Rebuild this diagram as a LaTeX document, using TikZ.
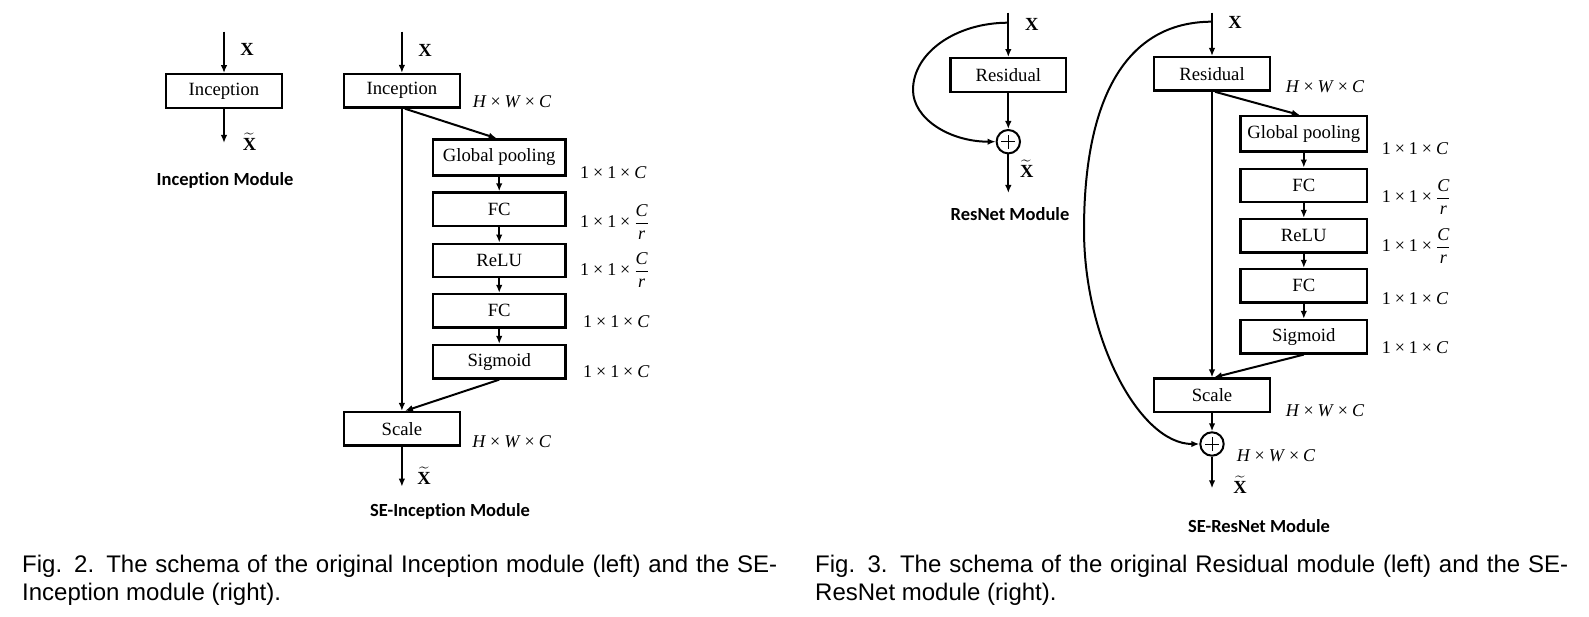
\documentclass[tikz,border=0pt]{standalone}
\usepackage{amsmath}
\usepackage{fontspec}
\setmainfont{Liberation Serif}
\newfontfamily\capfont{Liberation Sans}
\newfontfamily\modfont{Carlito}[Ligatures=NoCommon]
\usetikzlibrary{arrows.meta}
\newcommand{\tm}{\hspace{0.22em}×\hspace{0.22em}}
\newcommand{\dimC}{1\tm 1\tm\textit{C}}
\newcommand{\dimCr}{1\tm 1\tm$\genfrac{}{}{1.3pt}{0}{\mbox{\textit{C}}}{\mbox{\textit{r}}}$}
\newcommand{\dimHWC}{\textit{H}\tm\textit{W}\tm\textit{C}}
\newcommand{\Xt}{$\widetilde{\mbox{\textbf{X}}}$}
\tikzset{
  blk/.style={draw, line width=2.3pt, inner sep=0pt, font=\fontsize{18.7}{20}\selectfont, minimum height=33.5pt},
  inc/.style={blk, minimum width=115.5pt},
  seA/.style={blk, minimum width=132.7pt},
  seB/.style={blk, minimum width=126.7pt},
  sum/.style={circle, draw, line width=2pt, minimum size=23.4pt, inner sep=0pt,
    path picture={\draw[line width=1pt] ([xshift=-7pt]path picture bounding box.center) -- ([xshift=7pt]path picture bounding box.center)
      ([yshift=-7pt]path picture bounding box.center) -- ([yshift=7pt]path picture bounding box.center);}},
  conn/.style={line width=2pt, -{Latex[length=8pt,width=6.5pt]}},
  xlab/.style={font=\fontsize{18.5}{20}\selectfont\bfseries, inner sep=0pt},
  dim/.style={font=\fontsize{18}{20}\selectfont, anchor=base west, inner sep=0pt},
  dimc/.style={font=\fontsize{18}{20}\selectfont, anchor=base, inner sep=0pt},
  modlab/.style={font=\modfont\bfseries\fontsize{18.5}{20}\selectfont, inner sep=0pt},
  capt/.style={font=\capfont\fontsize{24}{28}\selectfont, anchor=base west, inner sep=0pt}
}
\begin{document}
\begin{tikzpicture}[x=1pt,y=-1pt]
\useasboundingbox (0,0) rectangle (1589,617);
% ---------- Inception module (left)
\coordinate (a0) at (224,31.7);
\node[inc] (a1) at (224,91) {Inception};
\coordinate (a2) at (224,143);
\draw[conn] (a0) -- (a1);
\draw[conn] (a1) -- (a2);
\node[xlab] (ax) at (247,49) {X};
\node[xlab] (axt) at (249.5,141.5) {\Xt};
\node[modlab] (am) at (225,180) {Inception Module};
% ---------- SE-Inception
\coordinate (b0) at (401.9,31.7);
\node[inc] (b1) at (401.9,90.8) {Inception};
\node[seA, minimum height=36pt] (b2) at (499.2,157.5) {Global pooling};
\node[seA] (b3) at (499.2,209.2) {FC};
\node[seA] (b4) at (499.2,260.5) {ReLU};
\node[seA] (b5) at (499.2,310.8) {FC};
\node[seA] (b6) at (499.2,361.8) {Sigmoid};
\node[inc] (b7) at (401.9,428.8) {Scale};
\coordinate (b8) at (401.9,486.7);
\draw[conn] (b0) -- (b1);
\draw[conn] ([xshift=3pt]b1.south) -- ([xshift=-2.5pt]b2.north);
\draw[conn] (b2) -- (b3);
\draw[conn] (b3) -- (b4);
\draw[conn] (b4) -- (b5);
\draw[conn] (b5) -- (b6);
\draw[conn] (b1) -- (b7);
\draw[conn] (b6.south) -- ([xshift=3pt]b7.north);
\draw[conn] (b7) -- (b8);
\node[dimc] (b1d) at (512,107.7) {\dimHWC};
\node[dim] (b2d) at (580,179) {\dimC};
\node[dim] (b3d) at (580,228) {\dimCr};
\node[dim] (b4d) at (580,276) {\dimCr};
\node[dim] (b5d) at (583,327.7) {\dimC};
\node[dim] (b6d) at (583,377.7) {\dimC};
\node[dimc] (b7d) at (511.7,447.7) {\dimHWC};
\node[xlab] (bx) at (425,50) {X};
\node[xlab] (bxt) at (424,475.7) {\Xt};
\node[modlab] (bm) at (450,511) {SE-Inception Module};
% ---------- ResNet module
\coordinate (c0) at (1008.3,12.7);
\coordinate (c0b) at (1008.3,22.7);
\node[inc] (c1) at (1008.3,75) {Residual};
\node[sum] (c2) at (1008.3,141.7) {};
\coordinate (c3) at (1008.3,193);
\draw[conn] (c0) -- (c1);
\draw[conn] (c1) -- (c2);
\draw[conn] (c2) -- (c3);
\draw[conn] (c0b) .. controls (955.5,22.7) and (913,53) .. (913,90)
  .. controls (913,118.7) and (949.7,141.7) .. (c2.west);
\node[xlab] (cx) at (1031.7,24) {X};
\node[xlab] (cxt) at (1026.7,169) {\Xt};
\node[modlab] (cm) at (1010,214) {ResNet Module};
% ---------- SE-ResNet
\coordinate (d0) at (1212,12.7);
\coordinate (d0b) at (1212,21.7);
\node[inc] (d1) at (1212,73.9) {Residual};
\node[seB, minimum height=35.4pt] (d2) at (1303.8,133.9) {Global pooling};
\node[seB] (d3) at (1303.8,185.5) {FC};
\node[seB] (d4) at (1303.8,235.8) {ReLU};
\node[seB] (d5) at (1303.8,285.8) {FC};
\node[seB] (d6) at (1303.8,336.7) {Sigmoid};
\node[inc] (d7) at (1212,395.3) {Scale};
\node[sum] (d8) at (1212,444) {};
\coordinate (d9) at (1212,488.3);
\draw[conn] (d0) -- (d1);
\draw[conn] ([xshift=3pt]d1.south) -- ([xshift=-4pt]d2.north);
\draw[conn] (d2) -- (d3);
\draw[conn] (d3) -- (d4);
\draw[conn] (d4) -- (d5);
\draw[conn] (d5) -- (d6);
\draw[conn] (d1) -- (d7);
\draw[conn] (d6.south) -- ([xshift=2pt]d7.north);
\draw[conn] (d7) -- (d8);
\draw[conn] (d8) -- (d9);
\draw[conn] (d0b) .. controls (1125,21.7) and (1084,100) .. (1084,230)
  .. controls (1084,340) and (1140,444) .. (d8.west);
\node[dimc] (d1d) at (1325,92.7) {\dimHWC};
\node[dim] (d2d) at (1381.7,154.3) {\dimC};
\node[dim] (d3d) at (1381.7,202.7) {\dimCr};
\node[dim] (d4d) at (1381.7,252) {\dimCr};
\node[dim] (d5d) at (1381.7,304.3) {\dimC};
\node[dim] (d6d) at (1381.7,353.3) {\dimC};
\node[dimc] (d7d) at (1325,416) {\dimHWC};
\node[dim] (d8d) at (1236.7,461) {\dimHWC};
\node[xlab] (dx) at (1235,22.7) {X};
\node[xlab] (dxt) at (1240,485) {\Xt};
\node[modlab] (dm) at (1259,525.7) {SE-ResNet Module};
% ---------- captions
\node[capt] (f2a) at (22,572) {\makebox[755pt][s]{Fig. 2. The schema of the original Inception module (left) and the SE-}};
\node[capt] (f2b) at (22,600) {Inception module (right).};
\node[capt] (f3a) at (815,572) {\makebox[753pt][s]{Fig. 3. The schema of the original Residual module (left) and the SE-}};
\node[capt] (f3b) at (815,600) {ResNet module (right).};
\end{tikzpicture}
\end{document}
